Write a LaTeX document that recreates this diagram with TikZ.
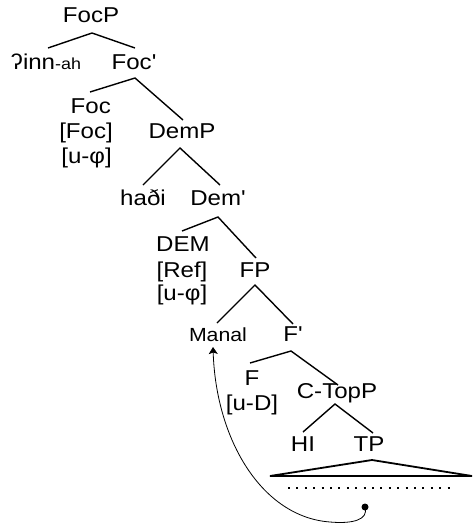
\documentclass[tikz,border=0pt]{standalone}
\usepackage{fontspec}
\newfontfamily\treefont{Liberation Sans}[FakeStretch=1.12]
\usetikzlibrary{arrows.meta}
\begin{document}
\begin{tikzpicture}[x=1pt,y=-1pt,
  lab/.style={anchor=base,inner sep=0pt,font=\treefont\fontsize{21.5}{25}\selectfont},
  small/.style={font=\treefont\fontsize{19}{22}\selectfont},
  branch/.style={line width=1.4pt},
  movearrow/.style={line width=0.8pt,-{Stealth[length=7pt,width=9pt,inset=1.5pt]}}]
\useasboundingbox (0,0) rectangle (473,525);

% labels
\node[lab] (focp) at (91,22) {FocP};
\node[lab] (spec) at (46,69) {ʔinn{\fontsize{16}{18}\selectfont -ah}};
\node[lab] (focbar) at (134,69) {Foc\char"0027};
\node[lab,anchor=base east] (foc) at (111,113) {Foc};
\node[lab,anchor=base east] (focf) at (113,138) {[Foc]};
\node[lab,anchor=base east] (focphi) at (112,163) {[u-φ]};
\node[lab] (demp) at (182,138) {DemP};
\node[lab] (hadi) at (143,205) {haði};
\node[lab] (dembar) at (218,205) {Dem\char"0027};
\node[lab] (dem) at (183,251) {DEM};
\node[lab] (ref) at (182,277) {[Ref]};
\node[lab] (demphi) at (182,300) {[u-φ]};
\node[lab] (fp) at (255,277) {FP};
\node[lab,small] (manal) at (218,341) {Manal};
\node[lab] (fbar) at (293,341) {F\char"0027};
\node[lab] (f) at (252,385) {F};
\node[lab] (ud) at (252,410) {[u-D]};
\node[lab] (ctopp) at (337,398) {C-TopP};
\node[lab] (hi) at (303,451) {HI};
\node[lab] (tp) at (369,451) {TP};

% branching points and branch ends
\coordinate (focpA) at (92,33);  \coordinate (focpL) at (48,48);   \coordinate (focpR) at (135,48);
\coordinate (focbA) at (135,78); \coordinate (focbL) at (90,92);   \coordinate (focbR) at (183,120);
\coordinate (dempA) at (180,148);\coordinate (dempL) at (143,185); \coordinate (dempR) at (220,185);
\coordinate (dembA) at (218,217);\coordinate (dembL) at (182,231); \coordinate (dembR) at (256,258);
\coordinate (fpA) at (255,285);  \coordinate (fpL) at (217,323);   \coordinate (fpR) at (293,324);
\coordinate (fbA) at (291,351);  \coordinate (fbL) at (250,363);   \coordinate (fbR) at (338,385);
\coordinate (ctA) at (335,404);  \coordinate (ctL) at (303,432);   \coordinate (ctR) at (373,433);

\draw[branch] (focpL) -- (focpA) -- (focpR);
\draw[branch] (focbL) -- (focbA) -- (focbR);
\draw[branch] (dempL) -- (dempA) -- (dempR);
\draw[branch] (dembL) -- (dembA) -- (dembR);
\draw[branch] (fpL) -- (fpA) -- (fpR);
\draw[branch] (fbL) -- (fbA) -- (fbR);
\draw[branch] (ctL) -- (ctA) -- (ctR);

% TP triangle and its dotted content
\coordinate (triA) at (372,460); \coordinate (triL) at (270,476); \coordinate (triR) at (472,476);
\draw[line width=1.8pt,line join=miter] (triL) -- (triA) -- (triR) -- cycle;
\coordinate (dotsL) at (288,488); \coordinate (dotsR) at (455,488);
\draw[line width=2pt,dash pattern=on 2pt off 6.4pt] (dotsL) -- (dotsR);

% trace and movement arrow
\fill (365,507) circle (3.5pt) coordinate (trace);
\coordinate (tip) at (213,347);
\draw[movearrow] (trace) .. controls (369,520) and (352,524) .. (330,522)
  .. controls (262,517) and (216,440) .. (tip);
\end{tikzpicture}
\end{document}
